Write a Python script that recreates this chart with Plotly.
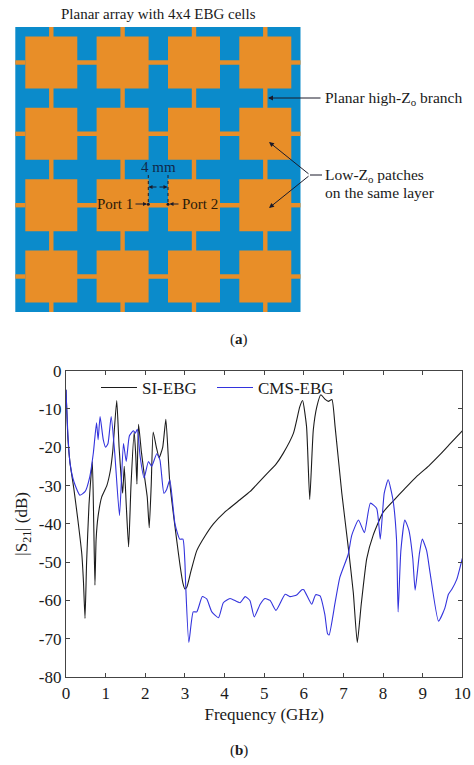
import plotly.graph_objects as go

# panel (b) curves
si_freq = [0, 0.05, 0.1, 0.2, 0.3, 0.4, 0.44, 0.48, 0.52, 0.58, 0.62, 0.665, 0.7, 0.73, 0.76, 0.81, 0.9, 1.03, 1.12, 1.18, 1.28,
           1.34, 1.4, 1.43, 1.47, 1.52, 1.58, 1.64, 1.72, 1.76, 1.79, 1.83, 1.9, 1.98, 2.05, 2.1, 2.15, 2.2, 2.28, 2.35, 2.44,
           2.52, 2.62, 2.79, 2.88, 2.95, 3.0, 3.05, 3.15, 3.3, 3.5, 3.72, 4.0, 4.39, 4.64, 5.06, 5.3, 5.48, 5.74, 5.9, 5.97, 6.07, 6.15, 6.24,
           6.33, 6.43, 6.54, 6.62, 6.71, 6.79, 6.96, 7.13, 7.25, 7.35, 7.45, 7.59, 7.75, 8.0, 8.26, 8.55, 8.85, 9.15, 9.43, 9.7, 10]
si_s21 = [-5, -18, -24, -31, -39, -48, -55, -64.7, -50, -35, -29, -23.7, -40, -56, -44, -38, -33, -30, -26, -21, -7.8,
          -20, -29, -32, -25, -35, -46, -30, -16, -22, -29.6, -14, -21, -27.6, -33, -41, -30, -16, -20, -22.7, -20,
          -12.7, -29.4, -44, -51, -55.5, -57, -56.5, -52.5, -47, -43.3, -40, -37, -33.7, -31.6, -27, -24.4, -21.6, -16.3, -9.4, -7.8, -14.6, -33.6, -15.5,
          -9.4, -6.3, -7.5, -8, -7.5, -14.6, -32, -46.8, -58, -71, -61, -49, -43, -37, -34, -30.8, -27.6, -24.9, -22, -19, -15.7]

cms_freq = [0, 0.05, 0.1, 0.2, 0.35, 0.48, 0.6, 0.69, 0.77, 0.81, 0.86, 0.94, 1.0, 1.06, 1.14, 1.23, 1.35, 1.45, 1.52, 1.6,
            1.7, 1.75, 1.8, 1.87, 1.97, 2.08, 2.16, 2.29, 2.37, 2.47, 2.54, 2.62, 2.75, 2.87, 2.95, 3.0, 3.02, 3.1, 3.21, 3.3,
            3.44, 3.55, 3.68, 3.85, 3.97, 4.14, 4.39, 4.52, 4.64, 4.75, 4.9, 5.02, 5.15, 5.3, 5.53, 5.65, 5.82, 5.95, 6.0,
            6.2, 6.3, 6.41, 6.53, 6.6, 6.64, 6.79, 6.91, 7.12, 7.21, 7.38, 7.53, 7.68, 7.84, 7.93, 8.03, 8.13, 8.25, 8.34,
            8.38, 8.45, 8.55, 8.65, 8.75, 8.81, 8.92, 8.99, 9.1, 9.19, 9.4, 9.56, 9.65, 9.74, 9.86, 10]
cms_s21 = [-5, -17, -24, -29, -32.5, -31.6, -27.7, -21.5, -13.6, -18, -12, -18, -20, -19, -12, -21.5, -37.8, -19, -23.7, -17,
           -15.7, -16.3, -15.3, -22.4, -28, -23.7, -25, -21.7, -23.3, -32, -31, -28.5, -40, -44, -44, -50, -56, -71, -63, -63,
           -59, -59.6, -63, -64.5, -60.6, -59.5, -60.6, -59, -60, -64.3, -61, -59.5, -60, -62.6, -58.4, -59, -58.6, -57.2, -57.2,
           -61, -58.5, -58.8, -63.6, -68.7, -69, -60.6, -54, -48, -43, -39, -42.3, -34.6, -36, -44, -32, -28.5, -33.7, -44,
           -63, -47, -39, -41.6, -49, -57.3, -47.6, -44, -47, -53, -65.4, -62, -58.4, -57, -54.5, -49]

x_ticks = [0, 1, 2, 3, 4, 5, 6, 7, 8, 9, 10]
y_ticks = [0, -10, -20, -30, -40, -50, -60, -70, -80]

# panel (a) layout, in page pixels
cell_x = [51.3, 122.6, 194, 265.3]
cell_y = [62.5, 133.8, 205.2, 276.5]
patch_half = 26
branch_half = 2.2
board = [15.3, 27, 300.5, 312]

W, H = 474, 765
BLUE = "#0b8bcb"
ORANGE = "#e88e28"
SERIF = "Liberation Serif"


def rect(x0, y0, x1, y1, color):
    return dict(type="rect", xref="x2", yref="y2", x0=x0, y0=y0, x1=x1, y1=y1,
                fillcolor=color, line=dict(width=0), layer="below")


def line(x0, y0, x1, y1, color="#1a1a2a", width=1, dash="solid"):
    return dict(type="line", xref="x2", yref="y2", x0=x0, y0=y0, x1=x1, y1=y1,
                line=dict(color=color, width=width, dash=dash))


def label(text, x, y, size=15.5, anchor="left", color="#1a1a1a"):
    return dict(text=text, x=x, y=y, xref="x2", yref="y2", showarrow=False, xanchor=anchor,
                yanchor="middle", font=dict(family=SERIF, size=size, color=color))


def arrow(x0, y0, x1, y1, head=1.0):
    return dict(x=x1, y=y1, ax=x0, ay=y0, xref="x2", yref="y2", axref="x2", ayref="y2", text="",
                showarrow=True, arrowhead=2, arrowsize=head, arrowwidth=1, arrowcolor="#1a1a2a")


def legend_box(x_px):
    return dict(x=x_px / W, y=1 - 370 / H, xanchor="left", yanchor="top", bgcolor="rgba(0,0,0,0)",
                itemwidth=36, font=dict(family=SERIF, size=17, color="#1a1a1a"))


shapes = [rect(board[0], board[1], board[2], board[3], BLUE)]
for cx in cell_x:
    shapes.append(rect(cx - branch_half, board[1], cx + branch_half, board[3], ORANGE))
for cy in cell_y:
    shapes.append(rect(board[0], cy - branch_half, board[0] + 10, cy + branch_half, ORANGE))
    shapes.append(rect(board[2] - 10, cy - branch_half, board[2], cy + branch_half, ORANGE))
    for cx in cell_x[:-1]:
        shapes.append(rect(cx, cy - branch_half, cx + 71.3, cy + branch_half, ORANGE))
for cx in cell_x:
    for cy in cell_y:
        shapes.append(rect(cx - patch_half, cy - patch_half, cx + patch_half, cy + patch_half, ORANGE))

shapes += [
    line(148.3, 175, 148.3, 204, width=1, dash="dot"),
    line(168, 175, 168, 204, width=1, dash="dot"),
    line(310, 175, 322, 175),
    dict(type="circle", xref="x2", yref="y2", x0=146.8, y0=202.7, x1=149.8, y1=205.7,
         fillcolor="#1a1a2a", line=dict(width=0)),
    dict(type="circle", xref="x2", yref="y2", x0=166.5, y0=202.7, x1=169.5, y1=205.7,
         fillcolor="#1a1a2a", line=dict(width=0)),
]

annotations = [
    label("Planar array with 4x4 EBG cells", 158, 14, size=15, anchor="center"),
    label("Planar high-Z<sub>o</sub> branch", 323, 98),
    label("Low-Z<sub>o</sub> patches", 323, 175),
    label("on the same layer", 323, 192),
    label("4 mm", 158, 167, size=15, anchor="center", color="#10284a"),
    label("Port 1", 115, 204, size=15, anchor="center", color="#2a1a08"),
    label("Port 2", 200, 204, size=15, anchor="center", color="#2a1a08"),
    label("(<b>a</b>)", 239, 339, size=15, anchor="center"),
    label("(<b>b</b>)", 239, 750, size=15, anchor="center"),
    arrow(322, 98, 268, 98),
    arrow(310, 175, 269, 142),
    arrow(310, 175, 269, 208),
    arrow(134, 204, 147, 204, head=0.8),
    arrow(180, 204, 169.5, 204, head=0.8),
    arrow(158, 187, 148.5, 187, head=0.8),
    arrow(158, 187, 167.5, 187, head=0.8),
]

fig = go.Figure()
fig.add_trace(go.Scatter(x=si_freq, y=si_s21, mode="lines", name="SI-EBG", legend="legend", showlegend=True,
                         line=dict(color="#1c1c1c", width=1.1, shape="spline", smoothing=0.5)))
fig.add_trace(go.Scatter(x=cms_freq, y=cms_s21, mode="lines", name="CMS-EBG", legend="legend2", showlegend=True,
                         line=dict(color="#3333dd", width=1.1, shape="spline", smoothing=0.5)))

axis_style = dict(showgrid=False, zeroline=False, showline=True, linecolor="#444444", linewidth=1.2,
                  ticks="inside", ticklen=4, tickcolor="#444444", mirror="allticks", automargin=False,
                  tickfont=dict(family=SERIF, size=17, color="#1a1a1a"),
                  title_font=dict(family=SERIF, size=17, color="#1a1a1a"))

fig.update_layout(
    width=W, height=H, margin=dict(l=0, r=0, t=0, b=0),
    paper_bgcolor="white", plot_bgcolor="rgba(0,0,0,0)",
    xaxis=dict(domain=[66 / W, 462.3 / W], range=[0, 10], tickvals=x_ticks, ticktext=[str(v) for v in x_ticks],
               title=dict(text="Frequency (GHz)", standoff=6), **axis_style),
    yaxis=dict(domain=[1 - 677 / H, 1 - 370.7 / H], range=[-80, 0], tickvals=y_ticks, ticktext=[str(v) for v in y_ticks],
               title=dict(text="|S<sub>21</sub>| (dB)", standoff=6), **axis_style),
    xaxis2=dict(domain=[0, 1], range=[0, W], visible=False, anchor="y2", fixedrange=True),
    yaxis2=dict(domain=[0, 1], range=[H, 0], visible=False, anchor="x2", fixedrange=True),
    legend=legend_box(96),
    legend2=legend_box(212),
    shapes=shapes,
    annotations=annotations,
)

fig.write_html("out.html", config={"displayModeBar": False}, post_script="document.body.style.margin='0';")
